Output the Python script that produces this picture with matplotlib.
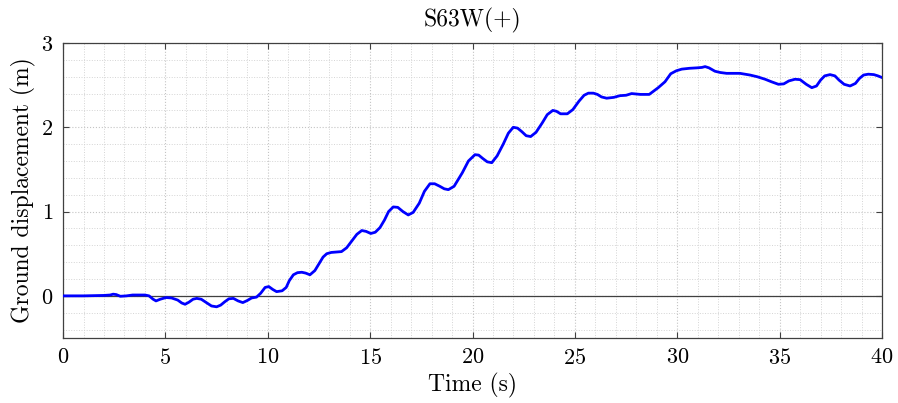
import numpy as np
import matplotlib.pyplot as plt
from matplotlib.ticker import MultipleLocator

# valores
t = [0, 1.0, 2.0, 2.3, 2.45, 2.6, 2.8, 3.1, 3.4, 4.0, 4.2, 4.4, 4.54, 4.75, 5.03,
     5.3, 5.6, 5.8, 5.96, 6.15, 6.35, 6.53, 6.75, 7.0, 7.25, 7.5, 7.7, 7.9, 8.1,
     8.32, 8.55, 8.78, 9.0, 9.21, 9.45, 9.65, 9.87, 10.05, 10.25, 10.43, 10.7,
     10.9, 11.05, 11.25, 11.45, 11.66, 11.85, 12.06, 12.3, 12.5, 12.7, 12.88, 13.1,
     13.37, 13.6, 13.85, 14.1, 14.35, 14.59, 14.8, 15.03, 15.25, 15.48, 15.7, 15.9,
     16.13, 16.35, 16.6, 16.86, 17.1, 17.4, 17.65, 17.92, 18.15, 18.4, 18.62, 18.82,
     19.1, 19.5, 19.8, 20.12, 20.3, 20.5, 20.72, 20.94, 21.2, 21.5, 21.75, 21.99,
     22.2, 22.4, 22.62, 22.84, 23.1, 23.4, 23.65, 23.92, 24.1, 24.3, 24.63, 24.9,
     25.2, 25.45, 25.66, 25.9, 26.1, 26.3, 26.55, 26.9, 27.2, 27.5, 27.77, 28.2,
     28.63, 29.07, 29.4, 29.68, 29.95, 30.22, 30.6, 30.95, 31.2, 31.36, 31.55,
     31.84, 32.1, 32.41, 32.7, 33.06, 33.3, 33.55, 33.9, 34.29, 34.6, 34.94, 35.2,
     35.45, 35.75, 36.0, 36.3, 36.57, 36.8, 37.0, 37.2, 37.46, 37.7, 37.9, 38.15,
     38.44, 38.7, 38.9, 39.1, 39.33, 39.6, 39.8, 40.0]
disp = [0, 0.0, 0.005, 0.01, 0.02, 0.015, -0.005, 0.0, 0.01, 0.01, 0.0, -0.04,
        -0.06, -0.04, -0.02, -0.025, -0.05, -0.085, -0.1, -0.075, -0.04, -0.03,
        -0.04, -0.08, -0.12, -0.13, -0.11, -0.07, -0.035, -0.03, -0.06, -0.08,
        -0.055, -0.025, -0.015, 0.03, 0.1, 0.11, 0.075, 0.05, 0.06, 0.1, 0.18, 0.25,
        0.275, 0.28, 0.27, 0.25, 0.3, 0.38, 0.46, 0.5, 0.515, 0.52, 0.525, 0.57,
        0.65, 0.73, 0.775, 0.765, 0.74, 0.755, 0.81, 0.9, 1.0, 1.055, 1.05, 1.0,
        0.96, 0.99, 1.1, 1.24, 1.33, 1.33, 1.3, 1.27, 1.26, 1.3, 1.46, 1.6, 1.675,
        1.67, 1.63, 1.59, 1.58, 1.66, 1.8, 1.93, 2.0, 1.99, 1.95, 1.9, 1.89, 1.94,
        2.05, 2.15, 2.2, 2.19, 2.16, 2.16, 2.21, 2.31, 2.38, 2.405, 2.405, 2.39,
        2.36, 2.345, 2.355, 2.375, 2.38, 2.4, 2.39, 2.39, 2.47, 2.54, 2.635, 2.67,
        2.69, 2.7, 2.705, 2.71, 2.72, 2.705, 2.665, 2.65, 2.64, 2.64, 2.64, 2.63,
        2.62, 2.6, 2.57, 2.54, 2.51, 2.515, 2.55, 2.57, 2.565, 2.51, 2.47, 2.49,
        2.56, 2.61, 2.625, 2.61, 2.56, 2.51, 2.49, 2.52, 2.58, 2.62, 2.63, 2.625,
        2.61, 2.59]

plt.rcParams['font.family'] = 'cmr10'
plt.rcParams['mathtext.fontset'] = 'cm'
plt.rcParams['axes.formatter.use_mathtext'] = True

fig = plt.figure(figsize=(8.98, 4.03), dpi=100)
ax = fig.add_axes([0.0702, 0.1613, 0.912, 0.732])

ax.axhline(0, color='#404040', lw=0.9, zorder=2)
ax.plot(t, disp, color='#0000ff', lw=2, zorder=3)

ax.set_xlim(0, 40)
ax.set_ylim(-0.5, 3)
ax.xaxis.set_major_locator(MultipleLocator(5))
ax.xaxis.set_minor_locator(MultipleLocator(1))
ax.yaxis.set_major_locator(MultipleLocator(1))
ax.yaxis.set_minor_locator(MultipleLocator(0.2))

# grade pontilhada estilo MATLAB
ax.grid(which='major', color='#c4c4c4', lw=0.8, ls=':')
ax.grid(which='minor', color='#d4d4d4', lw=0.7, ls=':')
ax.set_axisbelow(True)

ax.tick_params(which='major', direction='in', length=4, top=True, right=True,
               labelsize=16, color='#404040', pad=7)
ax.tick_params(which='minor', length=0)
for s in ax.spines.values():
    s.set_color('#404040')
    s.set_linewidth(0.9)

ax.set_xlabel('Time (s)', fontsize=17, labelpad=4)
ax.set_ylabel('Ground displacement (m)', fontsize=17, labelpad=4)
ax.set_title('S63W(+)', fontsize=17, pad=12)

plt.savefig('out.png', dpi=100)
